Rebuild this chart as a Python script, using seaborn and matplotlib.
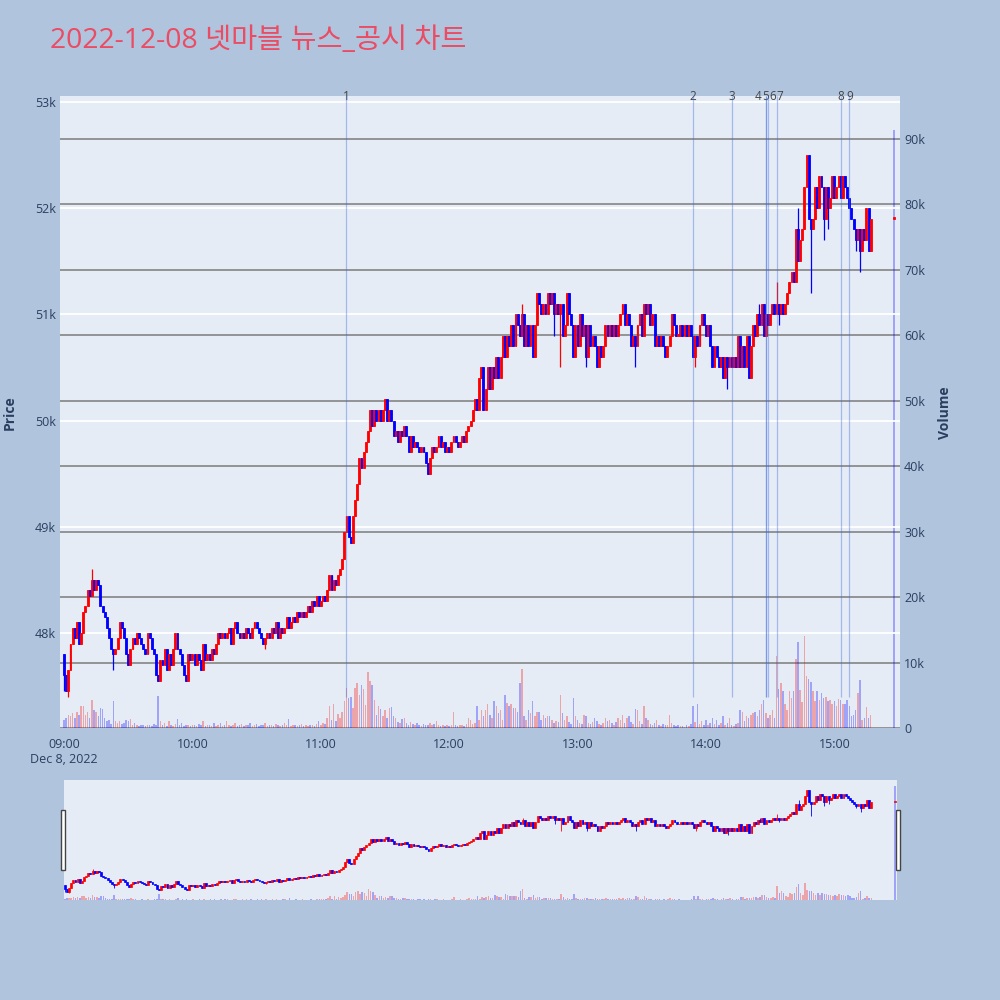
import numpy as np
import pandas as pd
import matplotlib
matplotlib.use("Agg")
import matplotlib.pyplot as plt
import matplotlib.transforms as mtransforms
from matplotlib.patches import Rectangle
import seaborn as sns

# ---------------- data ----------------
title = "2022-12-08 넷마블 뉴스_공시 차트"
first_open = 47800
# one close per minute from 09:00 to 15:17, then the closing auction
closes = [
    47600, 47450, 47650, 47900, 48050, 47950, 48100, 47900, 48000, 48200,  # 09:00
    48250, 48400, 48350, 48500, 48400, 48500, 48450, 48250, 48200, 48150,  # 09:10
    48050, 47950, 47850, 47800, 47850, 47950, 48100, 48050, 47950, 47800,  # 09:20
    47700, 47850, 47950, 47900, 48000, 47950, 47900, 47850, 47800, 48000,  # 09:30
    47950, 47850, 47800, 47600, 47550, 47750, 47700, 47850, 47650, 47800,  # 09:40
    47700, 47850, 48000, 47850, 47800, 47700, 47600, 47550, 47800, 47750,  # 09:50
    47800, 47700, 47800, 47750, 47650, 47900, 47750, 47800, 47750, 47850,  # 10:00
    47800, 47900, 48000, 47950, 48000, 47950, 48000, 48050, 47900, 48050,  # 10:10
    48100, 48000, 47950, 48000, 47950, 48050, 48000, 47950, 48050, 48100,  # 10:20
    48050, 48000, 47950, 47900, 47950, 48000, 47950, 48050, 48000, 48100,  # 10:30
    47950, 48050, 48000, 48050, 48150, 48050, 48100, 48150, 48100, 48200,  # 10:40
    48150, 48200, 48150, 48200, 48250, 48200, 48300, 48250, 48350, 48250,  # 10:50
    48300, 48350, 48300, 48400, 48550, 48400, 48500, 48450, 48550, 48600,  # 11:00
    48700, 48950, 49100, 48900, 48850, 49100, 49250, 49400, 49650, 49550,  # 11:10
    49700, 49800, 49900, 50100, 49950, 50100, 50000, 50100, 50000, 50100,  # 11:20
    50200, 50000, 50100, 50000, 49850, 49900, 49800, 49900, 49850, 49950,  # 11:30
    49850, 49700, 49850, 49750, 49800, 49750, 49700, 49750, 49700, 49600,  # 11:40
    49500, 49650, 49750, 49700, 49750, 49850, 49750, 49800, 49700, 49750,  # 11:50
    49700, 49800, 49850, 49800, 49750, 49800, 49850, 49800, 49900, 49950,  # 12:00
    50000, 50100, 50200, 50100, 50400, 50500, 50100, 50300, 50500, 50300,  # 12:10
    50500, 50400, 50600, 50400, 50600, 50800, 50600, 50800, 50700, 50900,  # 12:20
    50700, 51000, 50900, 50800, 51000, 50700, 50900, 50700, 50900, 50600,  # 12:30
    50900, 51200, 51100, 51000, 51100, 51000, 51200, 51100, 51200, 51000,  # 12:40
    51100, 51000, 51100, 50800, 50900, 51200, 51000, 50900, 50600, 50900,  # 12:50
    50700, 51000, 50800, 50900, 50600, 50900, 50700, 50800, 50700, 50500,  # 13:00
    50700, 50600, 50700, 50900, 50800, 50900, 50800, 50900, 50800, 50900,  # 13:10
    51000, 51100, 50900, 51000, 50900, 50700, 50800, 50700, 50900, 51000,  # 13:20
    50800, 51100, 51000, 51100, 50900, 51000, 50700, 50800, 50700, 50800,  # 13:30
    50700, 50600, 50700, 50800, 51000, 50900, 50800, 50800, 50900, 50800,  # 13:40
    50900, 50800, 50900, 50800, 50600, 50800, 50700, 50900, 51000, 50900,  # 13:50
    50800, 50900, 50700, 50500, 50700, 50600, 50500, 50600, 50400, 50600,  # 14:00
    50500, 50600, 50500, 50600, 50500, 50800, 50500, 50700, 50500, 50800,  # 14:10
    50400, 50700, 50900, 50800, 51000, 50900, 51100, 50800, 51000, 50900,  # 14:20
    51000, 51100, 51000, 51100, 51000, 51100, 51000, 51100, 51200, 51300,  # 14:30
    51400, 51300, 51800, 51500, 51700, 51800, 52200, 52500, 51900, 51800,  # 14:40
    51900, 52200, 52000, 52300, 52200, 51900, 52200, 52000, 52100, 52300,  # 14:50
    52100, 52200, 52300, 52100, 52300, 52200, 52100, 52000, 51900, 51800,  # 15:00
    51700, 51800, 51600, 51800, 51700, 52000, 51600, 51900,                # 15:10
    51900,                                                                 # 15:28 close
]
volumes = [
    1200, 1500, 2000, 1800, 2300, 1600, 2500, 2000, 3300, 3400,
    2000, 2500, 1500, 4300, 2800, 2500, 1800, 3000, 2900, 1500,
    1000, 1200, 600, 4200, 1000, 700, 1000, 600, 800, 1200,
    1000, 1300, 500, 700, 400, 300, 500, 400, 300, 500,
    400, 300, 600, 500, 4900, 1100, 500, 700, 300, 1000,
    400, 300, 600, 1300, 400, 800, 300, 500, 400, 300,
    500, 400, 300, 600, 400, 1000, 300, 400, 500, 300,
    700, 300, 400, 800, 300, 500, 1000, 400, 300, 500,
    800, 300, 400, 600, 300, 500, 400, 700, 300, 400,
    600, 300, 500, 400, 700, 300, 400, 500, 300, 600,
    400, 300, 500, 700, 400, 1300, 300, 400, 500, 300,
    400, 600, 300, 400, 300, 500, 400, 300, 600, 1000,
    500, 700, 600, 1500, 3400, 1200, 3600, 1000, 2200, 1500,
    2500, 4100, 6100, 4600, 4800, 3000, 6100, 6900, 5100, 6600,
    5900, 3500, 8500, 7200, 6600, 4300, 2000, 3300, 2900, 1800,
    2800, 1500, 3000, 3200, 1800, 1500, 900, 700, 1300, 1500,
    700, 500, 900, 600, 400, 700, 500, 300, 600, 400,
    500, 700, 400, 600, 1000, 400, 300, 500, 300, 400,
    300, 500, 2500, 400, 300, 500, 400, 300, 600, 1500,
    1200, 600, 800, 3300, 1200, 2800, 1800, 2800, 3600, 2000,
    1500, 4200, 3300, 2300, 2800, 1200, 5100, 3800, 3300, 3600,
    3000, 3000, 2500, 6900, 9000, 1800, 1200, 2800, 2300, 4100,
    1800, 2400, 2500, 1200, 2000, 1500, 1800, 1800, 1200, 700,
    1000, 900, 5100, 2300, 1200, 1800, 900, 600, 4600, 1800,
    1200, 800, 600, 2000, 1800, 700, 600, 900, 1500, 1000,
    600, 500, 700, 1500, 1000, 1200, 700, 500, 900, 1600,
    1200, 2000, 800, 1600, 1800, 900, 600, 2900, 2800, 1000,
    600, 3300, 1500, 1200, 600, 400, 800, 1200, 500, 300,
    600, 400, 500, 2000, 700, 500, 300, 500, 300, 300,
    200, 400, 300, 600, 3300, 900, 3600, 600, 1000, 400,
    1200, 500, 800, 1500, 600, 1200, 400, 700, 1800, 500,
    800, 1500, 500, 300, 600, 700, 2800, 2500, 1000, 1800,
    1500, 2000, 2300, 2500, 1800, 2800, 3700, 4300, 2300, 1500,
    2000, 2800, 1500, 11000, 5900, 6900, 5600, 3600, 2800, 5600,
    4600, 5600, 10500, 13200, 5800, 4000, 14000, 8000, 7500, 7000,
    5600, 4100, 5600, 4300, 5400, 4600, 4800, 4100, 4300, 3600,
    4100, 3300, 4500, 4300, 3700, 3600, 4300, 3300, 1800, 2000,
    2800, 5400, 7400, 1200, 1600, 3200, 1600, 2000,
    91400,
]
# wick extremes that go beyond the candle body (key = candle index)
high_wicks = {13: 48600, 214: 51100, 325: 51100, 333: 51300, 343: 52000}
low_wicks = {0: 47450, 2: 47400, 23: 47650, 94: 47850, 229: 50800, 232: 50500,
             244: 50500, 267: 50500, 295: 50500, 310: 50300, 334: 50900,
             349: 51200, 355: 51700, 357: 51800, 370: 51600, 372: 51400}
event_labels = ["1", "2", "3", "4", "5", "6", "7", "8", "9"]
event_times = ["11:12", "13:54", "14:12", "14:28", "14:28", "14:29", "14:33", "15:03", "15:07"]
price_ticks = [48000, 49000, 50000, 51000, 52000, 53000]
price_tick_labels = ["48k", "49k", "50k", "51k", "52k", "53k"]
vol_ticks = [0, 10000, 20000, 30000, 40000, 50000, 60000, 70000, 80000, 90000]
vol_tick_labels = ["0", "10k", "20k", "30k", "40k", "50k", "60k", "70k", "80k", "90k"]
x_tick_times = ["09:00", "10:00", "11:00", "12:00", "13:00", "14:00", "15:00"]
x_tick_labels = ["09:00\nDec 8, 2022", "10:00", "11:00", "12:00", "13:00", "14:00", "15:00"]

# ---------------- prep ----------------
day = "2022-12-08 "
times = pd.date_range(day + "09:00", periods=len(closes) - 1, freq="min").append(
    pd.DatetimeIndex([day + "15:28"]))
t0 = pd.Timestamp(day + "09:00")
def to_min(ts):
    return (pd.DatetimeIndex(ts) - t0).total_seconds().values / 60.0

t = to_min(times)
c = np.array(closes, dtype=float)
o = np.concatenate([[first_open], c[:-1]])
h = np.maximum(o, c)
l = np.minimum(o, c)
for k, v in high_wicks.items():
    h[k] = max(h[k], v)
for k, v in low_wicks.items():
    l[k] = min(l[k], v)
up = c >= o
cand_col = np.where(up, "#FF0000", "#0000FF")
df = pd.DataFrame({"t": t, "vol": volumes,
                   "dir": np.where(c > o, "up", "down")})
ev_t = to_min([day + s for s in event_times])
xt = to_min([day + s for s in x_tick_times])

# spread the event number labels so that close ones do not sit on each other
lab_x = ev_t.astype(float).copy()
gap = 3.3  # minutes (~7 px)
for _ in range(200):
    for i in range(1, len(lab_x)):
        if lab_x[i] - lab_x[i - 1] < gap:
            mid = (lab_x[i] + lab_x[i - 1]) / 2
            lab_x[i - 1] = mid - gap / 2
            lab_x[i] = mid + gap / 2

FIG_BG = "#B0C4DE"
PLOT_BG = "#E5ECF6"
TXT = "#2a3f5f"
PAL = {"up": "#FF0000", "down": "#0000FF"}

sns.set_theme(style="darkgrid", rc={"axes.facecolor": PLOT_BG, "figure.facecolor": FIG_BG})
plt.rcParams["font.family"] = ["Open Sans", "Noto Sans CJK KR", "DejaVu Sans"]

fig = plt.figure(figsize=(10, 10), dpi=100, facecolor=FIG_BG)

# ---------------- main panel ----------------
ax_vol = fig.add_axes([0.06, 0.272, 0.84, 0.632])
ax_vol.set_facecolor(PLOT_BG)
ax = ax_vol.twinx()
ax.yaxis.tick_left()
ax.yaxis.set_label_position("left")
ax_vol.yaxis.tick_right()
ax_vol.yaxis.set_label_position("right")

sns.histplot(data=df, x="t", weights="vol", hue="dir", palette=PAL, discrete=True,
             shrink=0.7, alpha=0.3, linewidth=0, legend=False, ax=ax_vol,
             multiple="layer")
ax_vol.set_ylim(0, 96570)
ax_vol.set_yticks(vol_ticks)
ax_vol.set_yticklabels(vol_tick_labels)
ax_vol.grid(axis="y", color="#8c8c8c", lw=1.3)
ax_vol.grid(axis="x", visible=False)
ax_vol.set_axisbelow(True)
ax_vol.set_xlim(-1.9, 390.7)
ax_vol.set_xticks(xt)
ax_vol.set_xticklabels(x_tick_labels)
ax_vol.tick_params(axis="x", length=0, pad=7, labelsize=9, colors=TXT)
ax_vol.tick_params(axis="y", length=0, pad=3, labelsize=9, colors=TXT)
ax_vol.set_xlabel("")
ax_vol.set_ylabel("")

# candles
ax.vlines(t, l, h, colors=cand_col, lw=0.9, zorder=3)
ax.bar(t, np.maximum(np.abs(c - o), 15), bottom=np.minimum(o, c), width=0.9,
       color=cand_col, edgecolor=cand_col, linewidth=0.6, zorder=3)
# news / disclosure markers
ax.vlines(ev_t, l.min(), 53056, colors="royalblue", alpha=0.4, lw=0.9, zorder=4)
trans = mtransforms.blended_transform_factory(ax.transData, ax.transAxes)
for tx, lab in zip(lab_x, event_labels):
    ax.text(tx, 1.0, lab, transform=trans, ha="center", va="center",
            fontsize=8.5, color="#444444", clip_on=False)
ax.set_ylim(47105, 53056)
ax.set_yticks(price_ticks)
ax.set_yticklabels(price_tick_labels)
ax.grid(axis="y", color="white", lw=1.3)
ax.grid(axis="x", visible=False)
ax.set_axisbelow(True)
ax.tick_params(axis="y", length=0, pad=3, labelsize=9, colors=TXT)
for a in (ax, ax_vol):
    for s in a.spines.values():
        s.set_visible(False)

fig.text(0.05, 0.959, title, fontsize=20.4, color="#EB4B63", ha="left", va="center")
fig.text(0.010, 0.587, "Price", rotation=90, ha="center", va="center",
         fontsize=10, fontweight="bold", color=TXT)
fig.text(0.945, 0.587, "Volume", rotation=90, ha="center", va="center",
         fontsize=10, fontweight="bold", color=TXT)

# ---------------- range slider ----------------
sv = fig.add_axes([0.0635, 0.100, 0.8335, 0.12])
sv.set_facecolor(PLOT_BG)
sp = sv.twinx()
sns.histplot(data=df, x="t", weights="vol", hue="dir", palette=PAL, discrete=True,
             shrink=0.7, alpha=0.3, linewidth=0, legend=False, ax=sv,
             multiple="layer")
sv.set_ylim(0, 96570)
sp.vlines(t, l, h, colors=cand_col, lw=0.6, zorder=3)
sp.bar(t, np.maximum(np.abs(c - o), 40), bottom=np.minimum(o, c), width=0.9,
       color=cand_col, edgecolor=cand_col, linewidth=0.5, zorder=3)
sp.set_ylim(47060, 53000)
sv.set_xlim(-0.6, 389)
for a in (sv, sp):
    a.grid(False)
    a.set_xticks([])
    a.set_yticks([])
    a.set_xlabel("")
    a.set_ylabel("")
    for s in a.spines.values():
        s.set_visible(False)
for hx in (0.061, 0.8955):
    fig.patches.append(Rectangle((hx, 0.13), 0.004, 0.06, transform=fig.transFigure,
                                 facecolor="white", edgecolor="#444444", lw=1.0,
                                 zorder=10))

fig.savefig("out.png", dpi=100, facecolor=FIG_BG)
